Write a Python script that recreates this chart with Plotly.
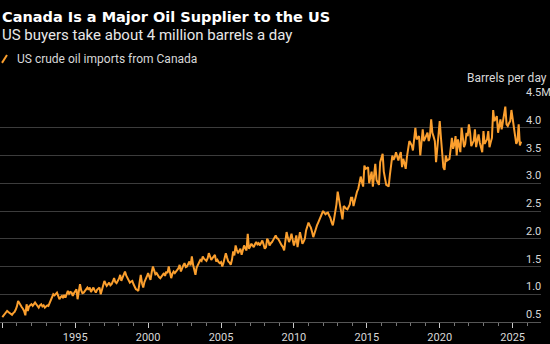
import plotly.graph_objects as go
import pandas as pd

# Monthly US crude oil imports from Canada, million barrels per day (Jan 1990 - Aug 2025)
v1990 = [0.59, 0.62, 0.64, 0.66, 0.70, 0.68, 0.66, 0.65, 0.63, 0.66, 0.68, 0.72]
v1991 = [0.78, 0.88, 0.84, 0.80, 0.77, 0.74, 0.70, 0.62, 0.82, 0.70, 0.78, 0.80]
v1992 = [0.82, 0.79, 0.81, 0.85, 0.82, 0.78, 0.76, 0.80, 0.82, 0.78, 0.80, 0.76]
v1993 = [0.78, 0.80, 0.79, 0.85, 0.90, 0.96, 1.00, 0.98, 1.01, 1.03, 0.97, 0.91]
v1994 = [0.95, 0.97, 0.93, 0.99, 0.94, 1.00, 1.06, 1.01, 1.04, 1.03, 0.97, 1.02]
v1995 = [1.05, 1.09, 0.91, 1.03, 1.18, 1.07, 1.02, 1.03, 1.06, 1.09, 1.12, 1.08]
v1996 = [1.12, 1.04, 1.08, 1.12, 1.07, 1.03, 1.08, 1.10, 1.12, 1.00, 1.10, 1.16]
v1997 = [1.24, 1.19, 1.15, 1.18, 1.21, 1.16, 1.18, 1.23, 1.29, 1.22, 1.20, 1.24]
v1998 = [1.28, 1.35, 1.24, 1.30, 1.36, 1.41, 1.34, 1.29, 1.25, 1.21, 1.23, 1.24]
v1999 = [1.18, 1.12, 1.09, 1.08, 1.06, 1.21, 1.35, 1.20, 1.12, 1.22, 1.29, 1.32]
v2000 = [1.38, 1.32, 1.26, 1.40, 1.50, 1.43, 1.36, 1.38, 1.33, 1.31, 1.29, 1.33]
v2001 = [1.35, 1.38, 1.33, 1.41, 1.38, 1.50, 1.40, 1.29, 1.37, 1.41, 1.38, 1.42]
v2002 = [1.44, 1.47, 1.53, 1.41, 1.48, 1.52, 1.56, 1.49, 1.50, 1.54, 1.59, 1.52]
v2003 = [1.68, 1.53, 1.45, 1.35, 1.48, 1.53, 1.58, 1.62, 1.60, 1.68, 1.64, 1.62]
v2004 = [1.60, 1.65, 1.74, 1.68, 1.62, 1.65, 1.69, 1.71, 1.59, 1.62, 1.58, 1.56]
v2005 = [1.58, 1.50, 1.56, 1.65, 1.74, 1.66, 1.59, 1.57, 1.53, 1.62, 1.77, 1.70]
v2006 = [1.88, 1.80, 1.74, 1.78, 1.82, 1.71, 1.80, 1.88, 1.83, 1.79, 2.09, 1.82]
v2007 = [1.86, 1.91, 1.88, 1.85, 1.90, 1.94, 1.90, 1.92, 1.88, 1.93, 1.97, 1.90]
v2008 = [1.82, 1.85, 2.00, 1.96, 1.88, 1.92, 1.94, 1.98, 2.02, 2.06, 2.01, 2.00]
v2009 = [1.96, 1.91, 1.88, 1.85, 1.79, 1.96, 2.12, 2.02, 1.94, 2.00, 2.09, 1.98]
v2010 = [1.88, 1.96, 2.06, 1.85, 1.98, 2.12, 2.02, 1.91, 1.95, 2.00, 2.15, 2.22]
v2011 = [2.29, 2.24, 2.20, 2.12, 2.03, 2.10, 2.18, 2.24, 2.29, 2.34, 2.38, 2.44]
v2012 = [2.50, 2.47, 2.44, 2.46, 2.47, 2.42, 2.38, 2.30, 2.24, 2.35, 2.47, 2.62]
v2013 = [2.85, 2.72, 2.59, 2.45, 2.35, 2.59, 2.56, 2.54, 2.53, 2.58, 2.62, 2.74]
v2014 = [2.74, 2.59, 2.68, 2.76, 2.85, 2.90, 3.00, 3.12, 3.02, 2.94, 3.32, 3.26]
v2015 = [3.27, 3.29, 3.00, 3.10, 3.21, 2.94, 3.15, 3.35, 3.06, 3.01, 2.97, 3.38]
v2016 = [3.45, 3.53, 3.21, 3.08, 2.97, 2.96, 2.94, 3.15, 3.35, 3.50, 3.42, 3.47]
v2017 = [3.56, 3.48, 3.41, 3.50, 3.56, 3.29, 3.44, 3.36, 3.26, 3.47, 3.62, 3.76]
v2018 = [3.72, 3.68, 3.59, 3.80, 4.00, 3.79, 3.82, 3.85, 3.50, 3.75, 3.97, 3.76]
v2019 = [3.82, 3.86, 3.91, 3.76, 3.85, 4.15, 3.91, 3.84, 3.76, 3.38, 3.60, 3.79]
v2020 = [4.12, 3.82, 3.60, 3.29, 3.24, 3.50, 3.41, 3.43, 3.44, 3.62, 3.82, 3.62]
v2021 = [3.70, 3.85, 3.50, 3.79, 3.65, 3.56, 4.00, 3.80, 3.65, 3.71, 3.91, 3.85]
v2022 = [4.06, 3.91, 3.67, 3.72, 3.76, 3.97, 3.65, 3.78, 3.88, 3.73, 3.64, 3.56]
v2023 = [3.94, 3.71, 3.75, 3.79, 3.94, 3.65, 3.74, 3.82, 4.32, 4.12, 4.16, 4.21]
v2024 = [3.91, 4.02, 4.15, 3.97, 4.09, 4.20, 4.38, 4.06, 4.03, 4.08, 4.12, 4.32]
v2025 = [4.15, 3.98, 3.79, 3.71, 3.76, 4.06, 3.68, 3.75]

imports = (v1990 + v1991 + v1992 + v1993 + v1994 + v1995 + v1996 + v1997 + v1998
           + v1999 + v2000 + v2001 + v2002 + v2003 + v2004 + v2005 + v2006 + v2007
           + v2008 + v2009 + v2010 + v2011 + v2012 + v2013 + v2014 + v2015 + v2016
           + v2017 + v2018 + v2019 + v2020 + v2021 + v2022 + v2023 + v2024 + v2025)
dates = pd.date_range("1990-01-01", periods=len(imports), freq="MS")

y_tickvals = [0.5, 1.0, 1.5, 2.0, 2.5, 3.0, 3.5, 4.0, 4.5]
y_ticktext = ["0.5", "1.0", "1.5", "2.0", "2.5", "3.0", "3.5", "4.0", "4.5M"]

title = "Canada Is a Major Oil Supplier to the US"
subtitle = "US buyers take about 4 million barrels a day"
series_name = "US crude oil imports from Canada"
unit_label = "Barrels per day"

W, H = 550, 344
T, B, L, R = 100, 17, 0, 9
PH = H - T - B
PW = W - L - R


def py(Y):
    return (H - B - Y) / PH


def px(X):
    return (X - L) / PW


ORANGE = "#fb9f2e"
fig = go.Figure()
fig.add_trace(go.Scatter(x=dates, y=imports, mode="lines",
                         line=dict(color=ORANGE, width=2), name=series_name,
                         showlegend=False, hoverinfo="skip"))

fig.update_layout(
    width=W, height=H,
    margin=dict(l=L, r=R, t=T, b=B),
    paper_bgcolor="black", plot_bgcolor="black",
    font=dict(family="Roboto", color="#d8d8d8", size=11),
    xaxis=dict(
        type="date",
        range=["1989-11-04", "2026-12-12"],
        tick0="1995-01-01", dtick="M60", tickformat="%Y",
        ticks="outside", ticklen=5, tickcolor="#cccccc", tickwidth=1,
        showgrid=False, zeroline=False,
        showline=True, linecolor="#555555", linewidth=1,
        tickfont=dict(size=11, color="#d8d8d8"),
        minor=dict(dtick="M12", tick0="1990-01-01", ticks="outside", ticklen=3,
                   tickcolor="#777777", showgrid=False),
        fixedrange=True,
    ),
    yaxis=dict(
        side="right", range=[0.5, 4.5],
        tickvals=y_tickvals, ticktext=y_ticktext,
        ticklabelposition="outside top", ticklabelstandoff=-16,
        ticks="", showgrid=True, gridcolor="#3c3c3c", gridwidth=1,
        zeroline=False, showline=False, automargin=False,
        tickfont=dict(size=11, color="#d8d8d8"),
        fixedrange=True,
    ),
    showlegend=False,
)

fig.add_annotation(text="<b>" + title + "</b>", xref="paper", yref="paper",
                   x=0, xanchor="left", y=py(15), yanchor="middle",
                   showarrow=False,
                   font=dict(family="DejaVu Sans", size=14.5, color="white"))
fig.add_annotation(text=subtitle, xref="paper", yref="paper",
                   x=0, xanchor="left", y=py(34), yanchor="middle",
                   showarrow=False,
                   font=dict(family="Roboto", size=15, color="#e8e8e8"))
fig.add_annotation(text=series_name, xref="paper", yref="paper",
                   x=px(15), xanchor="left", y=py(58), yanchor="middle",
                   showarrow=False,
                   font=dict(family="Roboto", size=12, color="#d8d8d8"))
fig.add_annotation(text=unit_label, xref="paper", yref="paper",
                   x=px(549), xanchor="right", y=py(78), yanchor="middle",
                   showarrow=False,
                   font=dict(family="Roboto", size=12, color="#d8d8d8"))
# legend slash icon
fig.add_shape(type="line", xref="paper", yref="paper",
              x0=px(2), x1=px(7), y0=py(62), y1=py(54),
              line=dict(color=ORANGE, width=2))

fig.write_html("out.html")
